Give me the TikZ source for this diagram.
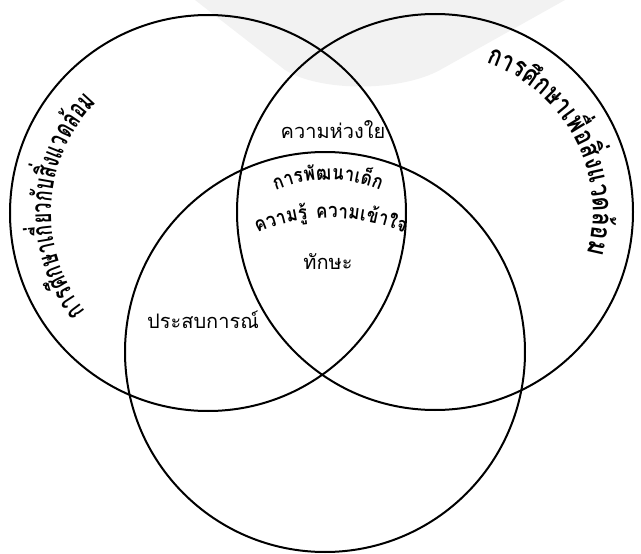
\documentclass[tikz,border=0pt]{standalone}
\usepackage{fontspec}
\newfontfamily\thaifont[Script=Thai]{Loma}
\newfontfamily\thaileft[Script=Thai,FakeStretch=0.64]{Loma}
\newfontfamily\thairight[Script=Thai,FakeStretch=0.78]{Loma}
\newfontfamily\thaimid[Script=Thai,FakeStretch=0.85]{Loma}
\usetikzlibrary{calc}
\tikzstyle{ring}=[draw, line width=2pt]
\tikzstyle{lbl}=[inner sep=0pt, font=\thaifont\fontsize{20}{24}\selectfont]
\newcommand\leftthai{\thaileft\bfseries\fontsize{28}{32}\selectfont}
\newcommand\rightthai{\thairight\bfseries\fontsize{28}{32}\selectfont}
\newcommand\midthai{\thaimid\bfseries\fontsize{20}{24}\selectfont}
\makeatletter
\newcommand\bendprobe[2]{%
  \node[inner sep=0pt, font=#1] (bendprobe) at (0,0) {\phantom{#2}};
  \pgfpointdiff{\pgfpointanchor{bendprobe}{west}}{\pgfpointanchor{bendprobe}{east}}%
  \xdef\bendq{\the\pgf@x}}
\makeatother
\newcommand\bendtext[6]{%
  \gdef\bendsum{0}%
  \foreach \cl in {#6}{\bendprobe{#5}{\cl}\pgfmathsetmacro\bendt{\bendsum+\bendq}\global\let\bendsum\bendt}%
  \pgfmathsetmacro\bendang{#4+\bendsum/#3*90/pi}\global\let\bendang\bendang
  \foreach \cl [count=\i] in {#6}{%
    \bendprobe{#5}{\cl}%
    \pgfmathsetmacro\bendw{\bendq/#3*180/pi}%
    \pgfmathsetmacro\bendm{\bendang-\bendw/2}%
    \node[rotate=\bendm-90, anchor=base, inner sep=0pt, font=#5] (#1-\i) at ($(#2)+(\bendm:#3)$) {\cl};
    \pgfmathsetmacro\bendnext{\bendang-\bendw}\global\let\bendang\bendnext}%
}

\begin{document}
\begin{tikzpicture}[x=1pt,y=1pt]
\useasboundingbox (0,0) rectangle (641,-554);
\fill[black!5] (195,0) -- (565,0) -- (440,-70) .. controls (400,-92) and (320,-92) .. (285,-70) -- cycle;
\coordinate (L) at (208,-213);
\coordinate (R) at (435,-212);
\coordinate (B) at (325,-352);
\draw[ring] (L) circle (198);
\draw[ring] (R) circle (198);
\draw[ring] (B) circle (200);
\bendtext{about}{L}{157}{177}{\leftthai}{ก,า,ร,ศึ,ก,ษ,า,เ,กี่,ย,ว,กั,บ,สิ่,ง,แ,ว,ด,ล้,อ,ม}
\bendtext{for}{R}{158}{28}{\rightthai}{ก,า,ร,ศึ,ก,ษ,า,เ,พื่,อ,สิ่,ง,แ,ว,ด,ล้,อ,ม}
\coordinate (dev) at (328,-315);
\coordinate (know) at (331,-408);
\bendtext{child}{dev}{135}{90}{\midthai}{ก,า,ร,พั,ฒ,น,า,เ,ด็,ก}
\bendtext{under}{know}{190}{90}{\midthai}{ค,ว,า,ม,รู้\rule{8pt}{0pt},ค,ว,า,ม,เ,ข้,า,ใ,จ}
\node[lbl] (care) at (333,-130) {ความห่วงใย};
\node[lbl] (skill) at (328,-262) {ทักษะ};
\node[lbl] (exp) at (203,-320) {ประสบการณ์};
\end{tikzpicture}
\end{document}
